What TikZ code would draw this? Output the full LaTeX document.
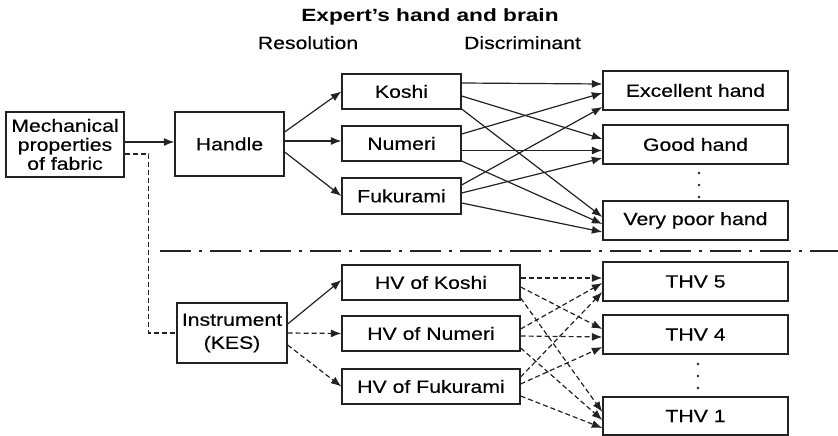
\documentclass[tikz,border=0pt]{standalone}
\usepackage{fontspec}
\setmainfont{Liberation Sans}[FakeStretch=1.2,FakeBold=0.35]
\newfontfamily\titlefont{Liberation Sans Bold}[FakeStretch=1.28]
\usetikzlibrary{arrows.meta,calc}
\definecolor{ink}{HTML}{222222}
\newcommand\myconn[5]{\draw[#1] ($(#2.east)+(0,#3)$) -- ($(#4.west)+(0,#5)$);}
\begin{document}
\begin{tikzpicture}[x=1pt,y=-1pt,
  every node/.style={text=black,font=\fontsize{17.7}{19}\selectfont},
  box/.style={draw=ink,line width=1.3pt,inner sep=0pt,align=center},
  sbox/.style={box,minimum width=119pt,minimum height=35pt},
  hvbox/.style={box,minimum width=178pt,minimum height=35pt},
  tbox/.style={box,minimum width=185pt,minimum height=39pt},
  arr/.style={draw=ink,line width=1.2pt,-{Latex[length=10.5pt,width=8pt]}},
  darr/.style={arr,dash pattern=on 5pt off 3pt},
  dline/.style={draw=ink,line width=1.2pt,dash pattern=on 5pt off 3pt},
  dashdotline/.style={draw=ink,line width=1.2pt,dash pattern=on 31pt off 8pt on 3pt off 8pt}]
\useasboundingbox (0,0) rectangle (838,436);

% headings
\node[anchor=base,font=\titlefont\fontsize{17.7}{19}\selectfont] (title) at (430,22) {Expert’s hand and brain};
\node[anchor=base] (reso) at (308,49) {Resolution};
\node[anchor=base] (disc) at (522.5,49) {Discriminant};

% upper row
\node[box,minimum width=118pt,minimum height=65pt] (mech) at (65,144.5) {Mechanical\\properties\\of fabric};
\node[box,minimum width=109pt,minimum height=64pt] (handle) at (229.5,144) {Handle};
\node[sbox] (koshi) at (401.5,91.5) {Koshi};
\node[sbox] (numeri) at (401.5,143.5) {Numeri};
\node[sbox,minimum height=36pt] (fuku) at (401.5,196) {Fukurami};
\node[tbox] (exc) at (695.5,90.5) {Excellent hand};
\node[tbox] (good) at (695.5,144.5) {Good hand};
\node[tbox] (vpoor) at (695.5,220.5) {Very poor hand};

% lower row
\node[box,minimum width=110pt,minimum height=60pt,font=\fontsize{17.7}{23}\selectfont] (inst) at (232,333) {Instrument\\(KES)};
\node[hvbox] (hvk) at (431,282.5) {HV of Koshi};
\node[hvbox] (hvn) at (431,333.5) {HV of Numeri};
\node[hvbox] (hvf) at (431,386.5) {HV of Fukurami};
\node[tbox] (thv5) at (695.5,281.5) {THV 5};
\node[tbox] (thv4) at (695.5,334.5) {THV 4};
\node[tbox,minimum height=38pt] (thv1) at (695.5,416) {THV 1};

% vertical ellipsis dots
\foreach \yy in {173,185,197} \fill[ink] (699,\yy) circle (1.4pt);
\foreach \yy in {364,376,388} \fill[ink] (698,\yy) circle (1.4pt);

% divider
\coordinate (divL) at (160,251);
\coordinate (divR) at (838,251);
\draw[dashdotline] (divL) -- (divR);

% upper connectors
\draw[arr] ($(mech.east)+(0,-2.5)$) -- ($(handle.west)+(0,-2)$);
\draw[dline] ($(mech.east)+(0,9.5)$) -- ++(24,0) |- (inst.west);
\myconn{arr}{handle}{-12}{koshi}{0}
\myconn{arr}{handle}{-3}{numeri}{-2.5}
\myconn{arr}{handle}{8}{fuku}{0}

\myconn{arr}{koshi}{-8.5}{exc}{-6.5}
\myconn{arr}{koshi}{4.5}{good}{-5.5}
\myconn{arr}{koshi}{17.5}{vpoor}{-3.5}
\myconn{arr}{numeri}{-9.5}{exc}{2.5}
\myconn{arr}{numeri}{7}{good}{6}
\myconn{arr}{numeri}{17.5}{vpoor}{3.5}
\myconn{arr}{fuku}{-11}{exc}{16.5}
\myconn{arr}{fuku}{-3}{good}{13.5}
\myconn{arr}{fuku}{7}{vpoor}{11.5}

% lower connectors
\myconn{arr}{inst}{-9}{hvk}{-2.5}
\myconn{darr}{inst}{0}{hvn}{0}
\myconn{darr}{inst}{12}{hvf}{0}

\myconn{darr}{hvk}{-4.5}{thv5}{-3.5}
\myconn{darr}{hvk}{4.5}{thv4}{-5.5}
\myconn{darr}{hvk}{15.5}{thv1}{-4}
\myconn{darr}{hvn}{-4.5}{thv5}{1.5}
\myconn{darr}{hvn}{2.5}{thv4}{2.5}
\myconn{darr}{hvn}{14.5}{thv1}{4}
\myconn{darr}{hvf}{-9.5}{thv5}{10.5}
\myconn{darr}{hvf}{-2.5}{thv4}{12.5}
\myconn{darr}{hvf}{9.5}{thv1}{12}
\end{tikzpicture}
\end{document}
